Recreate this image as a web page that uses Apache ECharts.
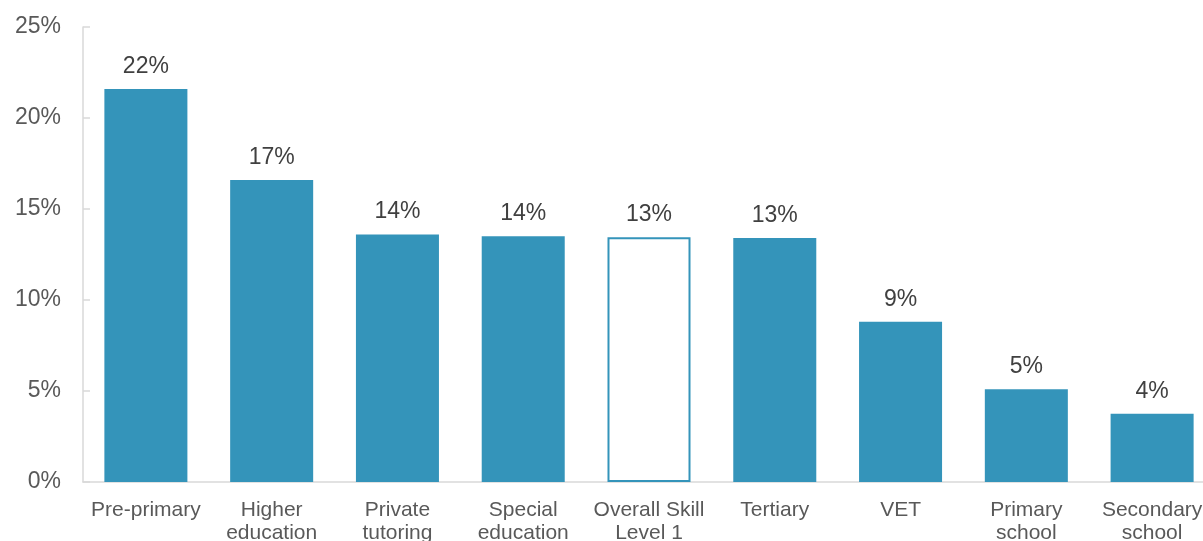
<!DOCTYPE html>
<html><head><meta charset="utf-8">
<script src="https://cdn.jsdelivr.net/npm/echarts@6/dist/echarts.min.js"></script>
<style>html,body{margin:0;padding:0;background:#fff;overflow:hidden;width:1203px;height:541px}#c{width:1215px;height:541px}</style>
</head><body><div id="c"></div>
<script>
const categories = ['Pre-primary', 'Higher\neducation', 'Private\ntutoring', 'Special\neducation', 'Overall Skill\nLevel 1', 'Tertiary', 'VET', 'Primary\nschool', 'Secondary\nschool'];
const values = [21.6, 16.6, 13.6, 13.5, 13.45, 13.4, 8.8, 5.1, 3.75];
const highlighted = [false, false, false, false, true, false, false, false, false];
const yTicks = [0, 5, 10, 15, 20, 25];

const BLUE = '#3494ba';
const chart = echarts.init(document.getElementById('c'), null, {renderer: 'canvas'});
chart.setOption({
  animation: false,
  backgroundColor: '#fff',
  grid: {left: 83, top: 27, bottom: 59, right: 0, containLabel: false, outerBoundsMode: 'none'},
  xAxis: {
    type: 'category', data: categories,
    axisLine: {lineStyle: {color: '#d9d9d9', width: 1.5}},
    axisTick: {inside: true, length: 7, alignWithLabel: false, lineStyle: {color: '#d9d9d9', width: 1.5}},
    axisLabel: {color: '#595959', fontFamily: 'Liberation Sans', fontSize: 21, margin: 17, lineHeight: 23, interval: 0}
  },
  yAxis: {
    type: 'value', min: 0, max: 25, interval: 5,
    axisLine: {show: true, lineStyle: {color: '#d9d9d9', width: 1.5}},
    axisTick: {show: true, inside: true, length: 7, lineStyle: {color: '#d9d9d9', width: 1.5}},
    splitLine: {show: false},
    axisLabel: {color: '#595959', fontFamily: 'Liberation Sans', fontSize: 23, margin: 22, padding: [5, 0, 0, 0], formatter: v => yTicks.includes(v) ? v + '%' : ''}
  },
  series: [{
    type: 'bar', barWidth: '66%',
    data: values.map((v, i) => highlighted[i]
      ? {value: v, itemStyle: {color: '#fff', borderColor: BLUE, borderWidth: 2}}
      : {value: v, itemStyle: {color: BLUE}}),
    label: {show: true, position: 'top', distance: 11, color: '#404040', fontFamily: 'Liberation Sans', fontSize: 23,
      formatter: p => Math.round(p.value) + '%'}
  }]
});
</script></body></html>
